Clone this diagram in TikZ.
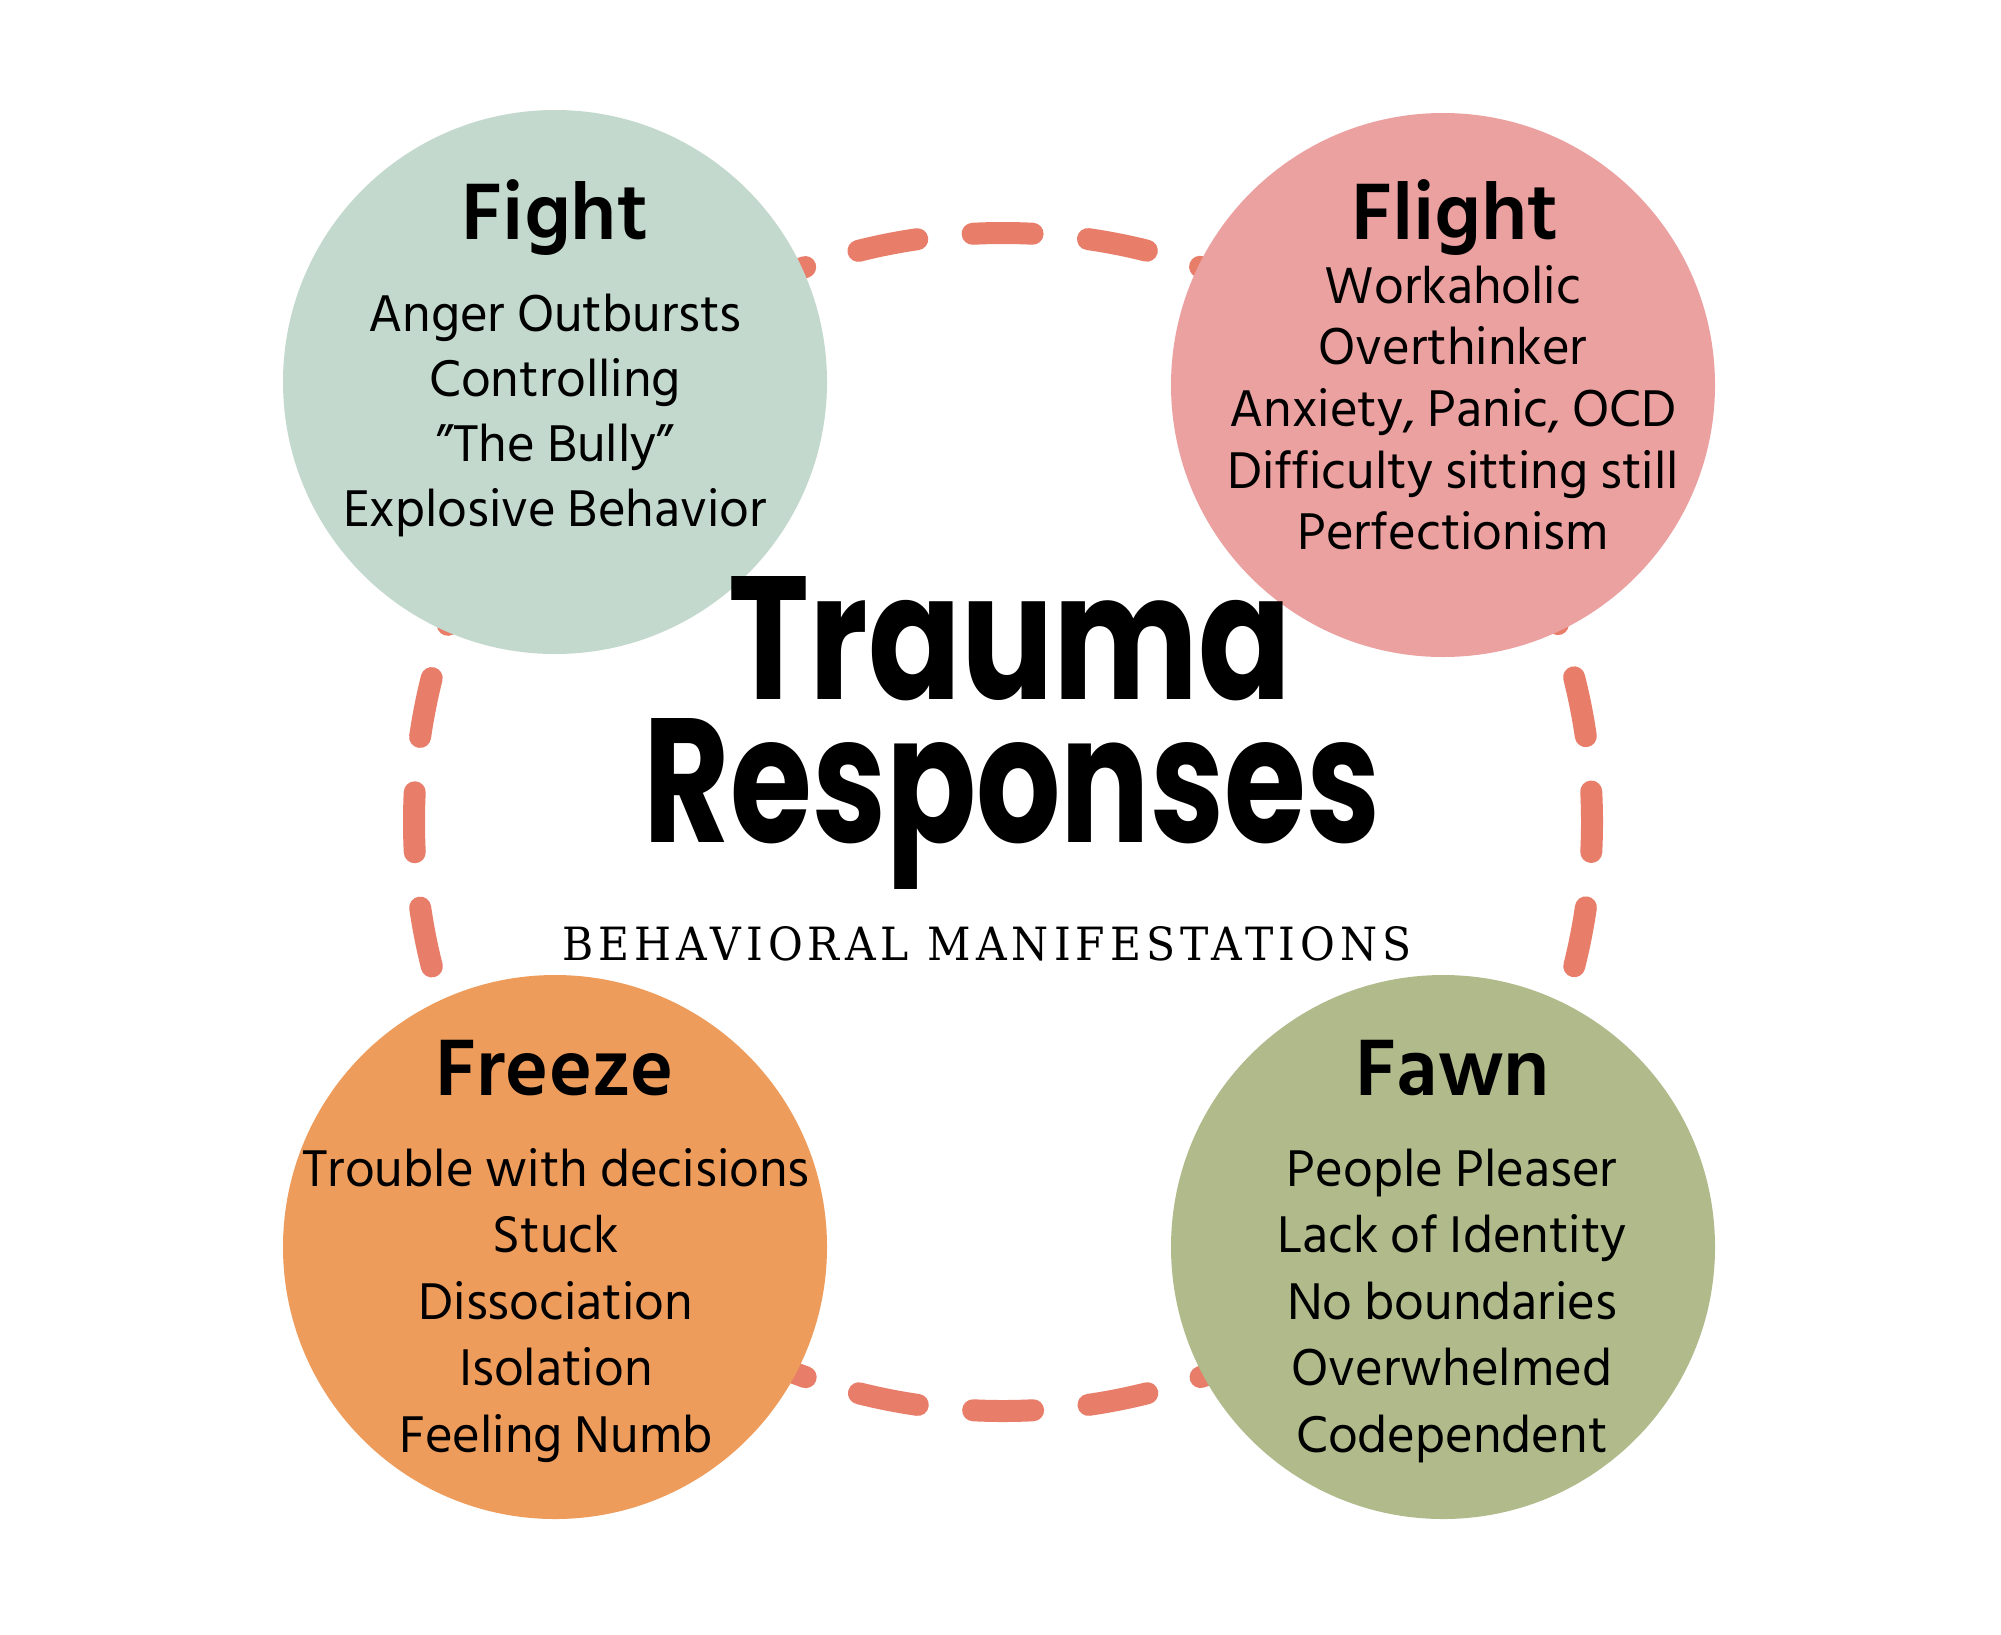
\documentclass[tikz,border=0pt]{standalone}
\usepackage{fontspec}
\usepackage{graphicx}
\setmainfont{Hind Siliguri}
\newfontfamily\bodyfont{Hind Siliguri}
\newfontfamily\headfont{Poppins}
\newfontfamily\slabfont{DejaVu Serif}[LetterSpace=12]
\definecolor{fightc}{HTML}{C3D9CE}
\definecolor{flightc}{HTML}{ECA1A1}
\definecolor{freezec}{HTML}{EE9C5B}
\definecolor{fawnc}{HTML}{B1BA8B}
\definecolor{loopc}{HTML}{E87D69}
\tikzset{
  loopline/.style={draw=loopc, line width=11pt, line cap=round,
    dash pattern=on 30pt off 27.825pt, dash phase=15pt},
  bubble/.style={circle, minimum size=544pt*0.5, inner sep=0pt, draw=none},
  headtext/.style={anchor=base, inner sep=0pt, font=\bodyfont\bfseries\fontsize{41}{41}\selectfont},
  listtext/.style={anchor=base, inner sep=0pt, font=\bodyfont\fontsize{26.5}{26.5}\selectfont},
  bigtitle/.style={anchor=base, inner sep=0pt, font=\headfont\bfseries},
  subtitle/.style={anchor=base, inner sep=0pt, font=\slabfont}
}
\begin{document}
\begin{tikzpicture}[x=0.5pt,y=-0.5pt]
\useasboundingbox (0,0) rectangle (2001,1634);
\fill[white] (0,0) rectangle (2001,1634);
% dashed loop behind the circles
\draw[loopline] (1003,822) circle[radius=589];
% circles
\node[bubble, fill=fightc]  (fight)  at (555,382)  {};
\node[bubble, fill=flightc] (flight) at (1443,385) {};
\node[bubble, fill=freezec] (freeze) at (555,1247) {};
\node[bubble, fill=fawnc]   (fawn)   at (1443,1247) {};
% headings
\node[headtext] (fighth)  at (555,239)  {Fight};
\node[headtext] (flighth) at (1455,239) {Flight};
\node[headtext] (freezeh) at (555,1095) {Freeze};
\node[headtext] (fawnh)   at (1453,1095) {Fawn};
% lists
\foreach \t [count=\i] in {Anger Outbursts, Controlling, ”The Bully”, Explosive Behavior}
  \node[listtext] (fightl\i) at (555,331.5+65*\i-65) {\t};
\foreach \t [count=\i] in {Workaholic, Overthinker, {Anxiety, Panic, OCD}, Difficulty sitting still, Perfectionism}
  \node[listtext] (flightl\i) at (1453,303+61.7*\i-61.7) {\t};
\foreach \t [count=\i] in {Trouble with decisions, Stuck, Dissociation, Isolation, Feeling Numb}
  \node[listtext] (freezel\i) at (556,1186+66.6*\i-66.6) {\t};
\foreach \t [count=\i] in {People Pleaser, Lack of Identity, No boundaries, Overwhelmed, Codependent}
  \node[listtext] (fawnl\i) at (1452,1186+66.6*\i-66.6) {\t};
% central title
\node[bigtitle] (trauma) at (1010,699) {\resizebox{281.5pt}{61.5pt}{Trauma}};
\node[bigtitle] (responses) at (1012,842) {\resizebox{368pt}{62pt}{Responses}};
\node[subtitle] (sub) at (987,960) {\resizebox{424.5pt}{17pt}{BEHAVIORAL MANIFESTATIONS}};
\end{tikzpicture}
\end{document}
